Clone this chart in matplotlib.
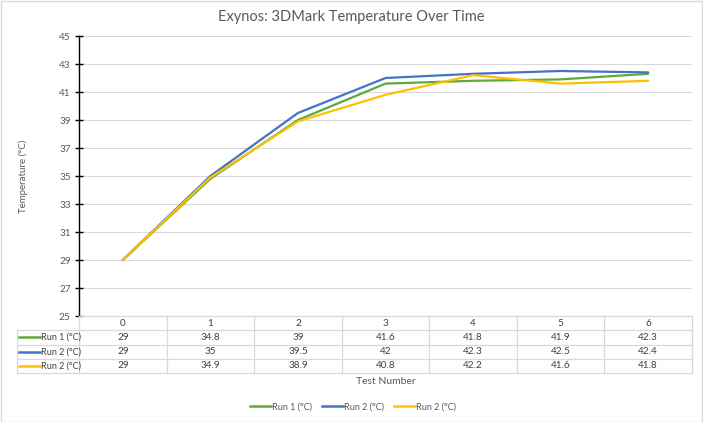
import matplotlib
matplotlib.use("Agg")
import matplotlib.pyplot as plt
from matplotlib.lines import Line2D
from matplotlib.patches import Rectangle
import matplotlib.transforms as mtransforms

plt.rcParams['font.family'] = ['Lato', 'DejaVu Sans']

categories = ["0", "1", "2", "3", "4", "5", "6"]
series_names = ["Run 1 (°C)", "Run 2 (°C)", "Run 2 (°C)"]
run1 = [29, 34.8, 39, 41.6, 41.8, 41.9, 42.3]
run2 = [29, 35, 39.5, 42, 42.3, 42.5, 42.4]
run3 = [29, 34.9, 38.9, 40.8, 42.2, 41.6, 41.8]
series = [run1, run2, run3]
colors = ["#5FA83A", "#4472C4", "#FFC000"]
yticks = [25, 27, 29, 31, 33, 35, 37, 39, 41, 43, 45]

W, H = 703, 422
fig = plt.figure(figsize=(W / 100, H / 100), dpi=100)
fig.patches.append(Rectangle((0.5 / W, 0.5 / H), 1 - 1.5 / W, 1 - 1.5 / H,
                             transform=fig.transFigure, fill=False,
                             edgecolor="#D9D9D9", linewidth=1))

L, R, T, B = 79, 692, 36, 316
ax = fig.add_axes([L / W, 1 - B / H, (R - L) / W, (B - T) / H])
ax.set_xlim(-0.5, len(categories) - 0.5)
ax.set_ylim(25, 45)
ax.set_yticks(yticks)
ax.set_xticks([])
ax.grid(axis='y', color="#D9D9D9", linewidth=0.8)
ax.set_axisbelow(True)
for s in ["top", "right", "bottom"]:
    ax.spines[s].set_visible(False)
ax.spines["left"].set_color("black")
ax.spines["left"].set_linewidth(1.0)
ax.spines["left"].set_zorder(5)
ax.tick_params(axis='y', direction='inout', length=6, width=1, color='black',
               labelsize=7.2, labelcolor="#595959", pad=3)

xs = list(range(len(categories)))
for vals, c in zip(series, colors):
    ax.plot(xs, vals, color=c, linewidth=1.6, solid_capstyle='round', zorder=3)

ax.set_ylabel("Temperature (°C)", fontsize=7, color="#595959", labelpad=22)

fig.text(0.5, 1 - 17 / H, "Exynos: 3DMark Temperature Over Time",
         ha='center', va='center', fontsize=10.5, color="#595959")

# data table
grid_c = "#D9D9D9"
txt_c = "#404040"
trans = mtransforms.blended_transform_factory(ax.transData, fig.transFigure)
row_edges = [316, 330, 344.5, 359, 373]
def fy(p):
    return 1 - p / H

for i, y in enumerate(row_edges):
    x0 = 17 / W if i >= 1 else L / W
    fig.add_artist(Line2D([x0, R / W], [fy(y), fy(y)], color=grid_c,
                          linewidth=0.9, transform=fig.transFigure))
for k in range(len(categories) + 1):
    xb = k - 0.5
    fig.add_artist(Line2D([xb, xb], [fy(316), fy(373)], color=grid_c,
                          linewidth=0.9, transform=trans))
fig.add_artist(Line2D([17 / W, 17 / W], [fy(330), fy(373)], color=grid_c,
                      linewidth=0.9, transform=fig.transFigure))

for k, cat in enumerate(categories):
    fig.text(k, fy(323), cat, ha='center', va='center', fontsize=7.2,
             color=txt_c, transform=trans)
for r, (name, vals, c) in enumerate(zip(series_names, series, colors)):
    yc = fy((row_edges[r + 1] + row_edges[r + 2]) / 2)
    fig.add_artist(Line2D([19 / W, 40 / W], [yc, yc], color=c, linewidth=1.8,
                          transform=fig.transFigure))
    fig.text(41 / W, yc, name, ha='left', va='center', fontsize=6.5, color=txt_c)
    for k, v in enumerate(vals):
        fig.text(k, yc, f"{v:g}", ha='center', va='center', fontsize=7.2,
                 color=txt_c, transform=trans)

fig.text((L + R) / 2 / W, fy(381), "Test Number", ha='center', va='center',
         fontsize=7.5, color="#595959")

handles = [Line2D([], [], color=c, linewidth=1.8) for c in colors]
leg = fig.legend(handles, series_names, loc='center', ncol=3,
                 bbox_to_anchor=(353 / W, fy(407)), frameon=False, fontsize=6.5,
                 handlelength=2.3, handletextpad=0.15, columnspacing=1.1,
                 labelcolor="#595959")

fig.savefig("out.png", dpi=100)
